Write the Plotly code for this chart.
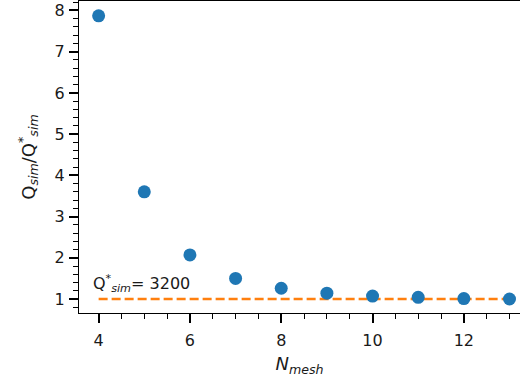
import plotly.graph_objects as go

n_mesh = [4, 5, 6, 7, 8, 9, 10, 11, 12, 13]
q_ratio = [7.87, 3.60, 2.07, 1.50, 1.26, 1.14, 1.07, 1.04, 1.01, 1.0]
ref_value = 1.0
ref_label = "Q<sup>*</sup><sub><i>sim</i></sub>= 3200"
x_ticks = [4, 6, 8, 10, 12]
y_ticks = [1, 2, 3, 4, 5, 6, 7, 8]

tick_font = dict(family="DejaVu Sans", size=16, color="#1a1a1a")
title_font = dict(family="DejaVu Sans", size=18, color="#1a1a1a")

fig = go.Figure()
fig.add_trace(go.Scatter(
    x=[n_mesh[0], n_mesh[-1]], y=[ref_value, ref_value], mode="lines",
    line=dict(color="#ff7f0e", width=2.4, dash="9px,4px"), showlegend=False,
))
fig.add_trace(go.Scatter(
    x=n_mesh, y=q_ratio, mode="markers",
    marker=dict(color="#1f77b4", size=13, line=dict(width=0)), showlegend=False,
))
fig.add_annotation(x=n_mesh[0], y=1.37, text=ref_label, showarrow=False,
                   xanchor="left", yanchor="middle", xshift=-8, font=tick_font)

axis_common = dict(showgrid=False, zeroline=False, showline=True, linecolor="black",
                   linewidth=1.3, ticks="outside", tickcolor="black", ticklen=9,
                   tickwidth=1.8, tickfont=tick_font)
minor_common = dict(ticks="outside", ticklen=5, tickcolor="black", tickwidth=1.2)
fig.update_xaxes(range=[3.57, 13.23], tickvals=x_ticks, mirror=True,
                 minor=dict(dtick=0.5, tick0=4, **minor_common),
                 ticklabelstandoff=4,
                 title=dict(text="<i>N</i><sub><i>mesh</i></sub>", font=title_font, standoff=8),
                 **axis_common)
fig.update_yaxes(range=[0.66, 8.23], tickvals=y_ticks, mirror=False,
                 minor=dict(dtick=0.2, tick0=0, **minor_common),
                 ticklabelstandoff=1,
                 title=dict(text="Q<sub><i>sim</i></sub>/Q<sup>*</sup><sub><i>sim</i></sub>", font=title_font, standoff=14),
                 **axis_common)
fig.update_layout(width=520, height=383, margin=dict(l=79, r=0, t=1, b=70),
                  plot_bgcolor="white", paper_bgcolor="white", font=tick_font)
fig.write_html("out.html")
